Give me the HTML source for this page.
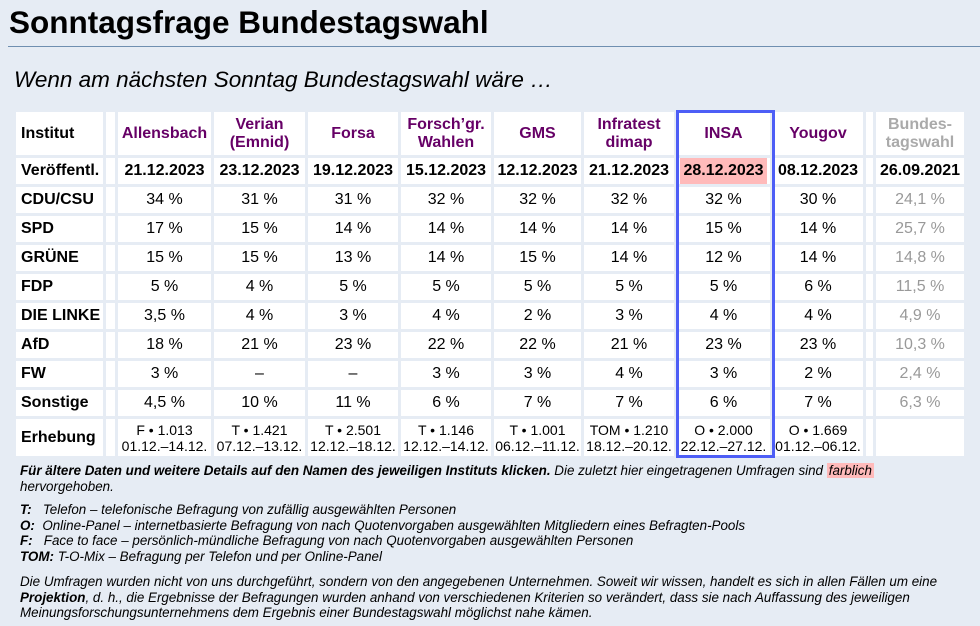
<!DOCTYPE html>
<html><head><meta charset="utf-8"><style>
body{margin:0;width:980px;height:626px;background:#e6ecf4;font-family:"Liberation Sans",Arial,sans-serif;position:relative;overflow:hidden;color:#000}
h1{position:absolute;left:9px;top:4px;margin:0;font-size:31.5px;font-weight:bold}
.rule{position:absolute;left:8px;right:0;top:46px;height:1px;background:#6f8fb0}
.sub{position:absolute;left:14px;top:67px;font-size:22.5px;font-style:italic}
table{position:absolute;left:13px;top:109px;border-collapse:separate;border-spacing:3px;table-layout:fixed;font-size:16px}
td{background:#fff;text-align:center;padding:0;line-height:18px;white-space:nowrap}
td.l{text-align:left;padding-left:5px;font-weight:bold}
tr.h td{height:43px;font-weight:bold;color:#660066}
tr.d td{height:26px;font-weight:bold}
tr.r td{height:26px}
tr.e td{height:37px;font-size:14px;line-height:16px}
.g{color:#999}
tr.h td.g{color:#aaa}
.pk{background:#ffbaba;display:inline-block;padding:4px 3px}
.box{position:absolute;left:676px;top:110px;width:93px;height:342px;border:3px solid #4d5ef6}
.notes{position:absolute;left:20px;top:463px;font-size:13.4px;font-style:italic;line-height:15.5px;width:955px}
.notes p{margin:0}
.f{background:#ffbaba;padding:0 2px}
</style></head><body>
<h1>Sonntagsfrage Bundestagswahl</h1>
<div class="rule"></div>
<div class="sub">Wenn am nächsten Sonntag Bundestagswahl wäre …</div>
<table>
<colgroup><col style="width:87px"><col style="width:9px"><col style="width:93px"><col style="width:91px"><col style="width:90px"><col style="width:90px"><col style="width:87px"><col style="width:90px"><col style="width:93px"><col style="width:90px"><col style="width:7px"><col style="width:88px"></colgroup>
<tr class="h"><td class="l" style="color:#000">Institut</td><td></td><td>Allensbach</td><td>Verian<br>(Emnid)</td><td>Forsa</td><td>Forsch’gr.<br>Wahlen</td><td>GMS</td><td>Infratest<br>dimap</td><td>INSA</td><td>Yougov</td><td></td><td class="g">Bundes-<br>tagswahl</td></tr>
<tr class="d"><td class="l">Veröffentl.</td><td></td><td>21.12.2023</td><td>23.12.2023</td><td>19.12.2023</td><td>15.12.2023</td><td>12.12.2023</td><td>21.12.2023</td><td><span class="pk">28.12.2023</span></td><td>08.12.2023</td><td></td><td>26.09.2021</td></tr>
<tr class="r"><td class="l">CDU/CSU</td><td></td><td>34 %</td><td>31 %</td><td>31 %</td><td>32 %</td><td>32 %</td><td>32 %</td><td>32 %</td><td>30 %</td><td></td><td class="g">24,1 %</td></tr>
<tr class="r"><td class="l">SPD</td><td></td><td>17 %</td><td>15 %</td><td>14 %</td><td>14 %</td><td>14 %</td><td>14 %</td><td>15 %</td><td>14 %</td><td></td><td class="g">25,7 %</td></tr>
<tr class="r"><td class="l">GRÜNE</td><td></td><td>15 %</td><td>15 %</td><td>13 %</td><td>14 %</td><td>15 %</td><td>14 %</td><td>12 %</td><td>14 %</td><td></td><td class="g">14,8 %</td></tr>
<tr class="r"><td class="l">FDP</td><td></td><td>5 %</td><td>4 %</td><td>5 %</td><td>5 %</td><td>5 %</td><td>5 %</td><td>5 %</td><td>6 %</td><td></td><td class="g">11,5 %</td></tr>
<tr class="r"><td class="l">DIE LINKE</td><td></td><td>3,5 %</td><td>4 %</td><td>3 %</td><td>4 %</td><td>2 %</td><td>3 %</td><td>4 %</td><td>4 %</td><td></td><td class="g">4,9 %</td></tr>
<tr class="r"><td class="l">AfD</td><td></td><td>18 %</td><td>21 %</td><td>23 %</td><td>22 %</td><td>22 %</td><td>21 %</td><td>23 %</td><td>23 %</td><td></td><td class="g">10,3 %</td></tr>
<tr class="r"><td class="l">FW</td><td></td><td>3 %</td><td>–</td><td>–</td><td>3 %</td><td>3 %</td><td>4 %</td><td>3 %</td><td>2 %</td><td></td><td class="g">2,4 %</td></tr>
<tr class="r"><td class="l">Sonstige</td><td></td><td>4,5 %</td><td>10 %</td><td>11 %</td><td>6 %</td><td>7 %</td><td>7 %</td><td>6 %</td><td>7 %</td><td></td><td class="g">6,3 %</td></tr>
<tr class="e"><td class="l" style="font-size:16px">Erhebung</td><td></td><td>F • 1.013<br>01.12.–14.12.</td><td>T • 1.421<br>07.12.–13.12.</td><td>T • 2.501<br>12.12.–18.12.</td><td>T • 1.146<br>12.12.–14.12.</td><td>T • 1.001<br>06.12.–11.12.</td><td>TOM • 1.210<br>18.12.–20.12.</td><td>O • 2.000<br>22.12.–27.12.</td><td>O • 1.669<br>01.12.–06.12.</td><td></td><td></td></tr>
</table>
<div class="box"></div>
<div class="notes">
<p><b>Für ältere Daten und weitere Details auf den Namen des jeweiligen Instituts klicken.</b> Die zuletzt hier eingetragenen Umfragen sind <span class="f">farblich</span><br>hervorgehoben.</p>
<p style="margin-top:8px"><b>T:</b>&nbsp;&nbsp;&nbsp;Telefon – telefonische Befragung von zufällig ausgewählten Personen<br><b>O:</b>&nbsp;&nbsp;Online-Panel – internetbasierte Befragung von nach Quotenvorgaben ausgewählten Mitgliedern eines Befragten-Pools<br><b>F:</b>&nbsp;&nbsp;&nbsp;Face to face – persönlich-mündliche Befragung von nach Quotenvorgaben ausgewählten Personen<br><b>TOM:</b> T-O-Mix – Befragung per Telefon und per Online-Panel</p>
<p style="margin-top:10px">Die Umfragen wurden nicht von uns durchgeführt, sondern von den angegebenen Unternehmen. Soweit wir wissen, handelt es sich in allen Fällen um eine<br><b>Projektion</b>, d. h., die Ergebnisse der Befragungen wurden anhand von verschiedenen Kriterien so verändert, dass sie nach Auffassung des jeweiligen<br>Meinungsforschungsunternehmens dem Ergebnis einer Bundestagswahl möglichst nahe kämen.</p>
</div>
</body></html>
